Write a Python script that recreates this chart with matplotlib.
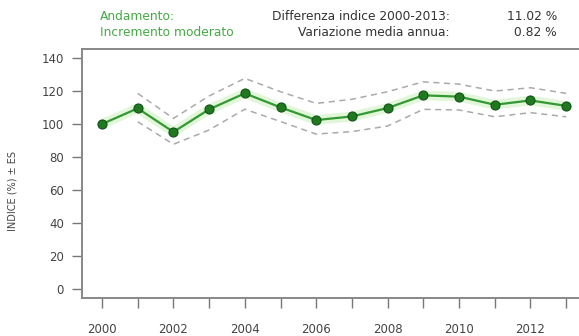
import matplotlib
matplotlib.use("Agg")
import matplotlib.pyplot as plt

# dati
anni = list(range(2000, 2014))
indice = [100.0, 109.5, 95.2, 108.9, 118.6, 110.1, 102.4, 104.6, 109.7, 117.4, 116.6, 111.7, 114.3, 111.02]
anni_es = list(range(2001, 2014))
es_sup = [118.6, 103.4, 117.0, 127.7, 119.6, 112.5, 115.0, 119.6, 125.6, 124.2, 120.0, 122.0, 118.6]
es_inf = [101.4, 87.7, 96.4, 109.0, 101.5, 93.9, 95.4, 98.8, 108.9, 108.5, 104.4, 106.9, 104.4]
etichette_x = [str(a) if a % 2 == 0 else "" for a in anni]
yticks = [0, 20, 40, 60, 80, 100, 120, 140]

W, H = 579, 336
fig = plt.figure(figsize=(W / 100, H / 100), dpi=100)
ax = fig.add_axes([82 / W, (H - 298) / H, (W - 82) / W, (298 - 49) / H])

# alone verde chiaro
ax.plot(anni, indice, color="#e2f6da", lw=7, solid_capstyle="round", zorder=1)
ax.plot(anni_es, es_sup, color="#aaaaaa", lw=1.1, ls=(0, (4, 3)), zorder=2)
ax.plot(anni_es, es_inf, color="#aaaaaa", lw=1.1, ls=(0, (4, 3)), zorder=2)
ax.plot(anni, indice, color="#339933", lw=1.6, marker="o", ms=6.5,
        mfc="#1f7a1f", mec="#14501a", mew=0.8, zorder=3)

ax.set_xlim(1999.44, 2013.36)
ax.set_ylim(-5.5, 145.5)
ax.set_xticks(anni)
ax.set_xticklabels(etichette_x)
ax.set_yticks(yticks)

for s in ["left", "bottom", "top"]:
    ax.spines[s].set_color("#888888")
    ax.spines[s].set_linewidth(1.4)
ax.spines["right"].set_visible(False)

ax.tick_params(axis="y", direction="out", length=7, width=1, color="#777777",
               labelsize=8.5, labelcolor="#444444", pad=6)
ax.tick_params(axis="x", direction="out", length=7, width=1, color="#777777",
               labelsize=8.5, labelcolor="#444444", pad=11)

ax.set_ylabel("INDICE (%) ± ES", fontsize=7, color="#444444")
ax.yaxis.set_label_coords(-0.13, 0.43)

# intestazione
verde = "#44aa44"
grigio = "#333333"
fs = 8.8
fig.text(100 / W, 1 - 16 / H, "Andamento:", color=verde, fontsize=fs, va="center", ha="left")
fig.text(100 / W, 1 - 33 / H, "Incremento moderato", color=verde, fontsize=fs, va="center", ha="left")
fig.text(450 / W, 1 - 16 / H, "Differenza indice 2000-2013:", color=grigio, fontsize=fs, va="center", ha="right")
fig.text(450 / W, 1 - 33 / H, "Variazione media annua:", color=grigio, fontsize=fs, va="center", ha="right")
fig.text(557 / W, 1 - 16 / H, "11.02 %", color=grigio, fontsize=fs, va="center", ha="right")
fig.text(557 / W, 1 - 33 / H, "0.82 %", color=grigio, fontsize=fs, va="center", ha="right")

fig.savefig("out.png", dpi=100)
